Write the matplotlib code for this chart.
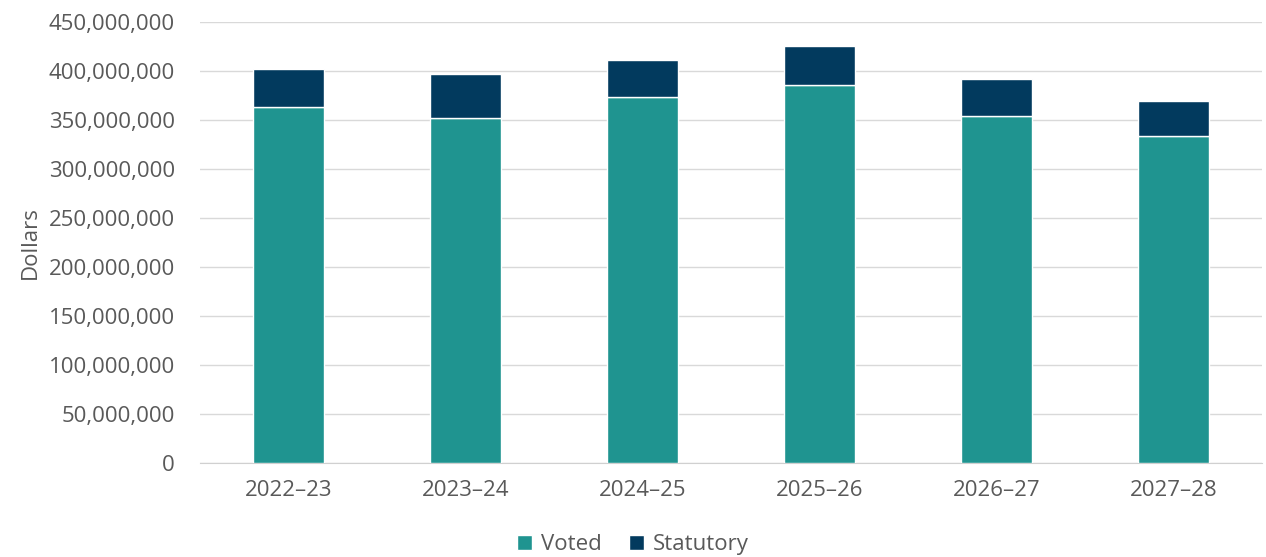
import numpy as np
import matplotlib.pyplot as plt
from matplotlib.ticker import FuncFormatter

years = ["2022\u201323", "2023\u201324", "2024\u201325", "2025\u201326", "2026\u201327", "2027\u201328"]
voted = [362.9e6, 351.7e6, 373.4e6, 385.6e6, 354.3e6, 333.3e6]
statutory = [39.0e6, 44.8e6, 37.7e6, 39.5e6, 37.4e6, 36.0e6]

plt.rcParams['font.family'] = ['Open Sans', 'DejaVu Sans']
grey = '#595959'
fs = 16

fig = plt.figure(figsize=(12.66, 5.57), dpi=100)
ax = fig.add_axes([0.158, 0.168, 0.839, 0.793])

x = np.arange(len(years))
ax.bar(x, voted, width=0.4, color='#1F9490', edgecolor='white', linewidth=1, label='Voted', zorder=3)
ax.bar(x, statutory, bottom=voted, width=0.4, color='#023A5E', edgecolor='white', linewidth=1, label='Statutory', zorder=3)

ax.set_xlim(-0.5, len(years) - 0.5)
ax.set_ylim(0, 450e6)
ax.set_yticks(np.arange(0, 450e6 + 1, 50e6))
ax.yaxis.set_major_formatter(FuncFormatter(lambda v, p: f"{int(v):,}"))
ax.set_xticks(x)
ax.set_xticklabels(years)
ax.tick_params(axis='both', length=0, labelsize=fs, colors=grey)
ax.tick_params(axis='x', pad=12)
ax.tick_params(axis='y', pad=18)
ax.grid(axis='y', color='#D9D9D9', linewidth=1, zorder=0)
for s in ['top', 'right', 'left']:
    ax.spines[s].set_visible(False)
ax.spines['bottom'].set_color('#D0D0D0')
ax.set_ylabel('Dollars', fontsize=fs, color=grey)
ax.yaxis.set_label_coords(-0.15, 0.5)

fig.legend(*ax.get_legend_handles_labels(), loc='center', bbox_to_anchor=(0.5, 0.022), ncol=2,
           frameon=False, fontsize=fs, labelcolor=grey, handlelength=0.7, handleheight=0.7,
           handletextpad=0.4, columnspacing=1.2)

fig.savefig('out.png', dpi=100)
